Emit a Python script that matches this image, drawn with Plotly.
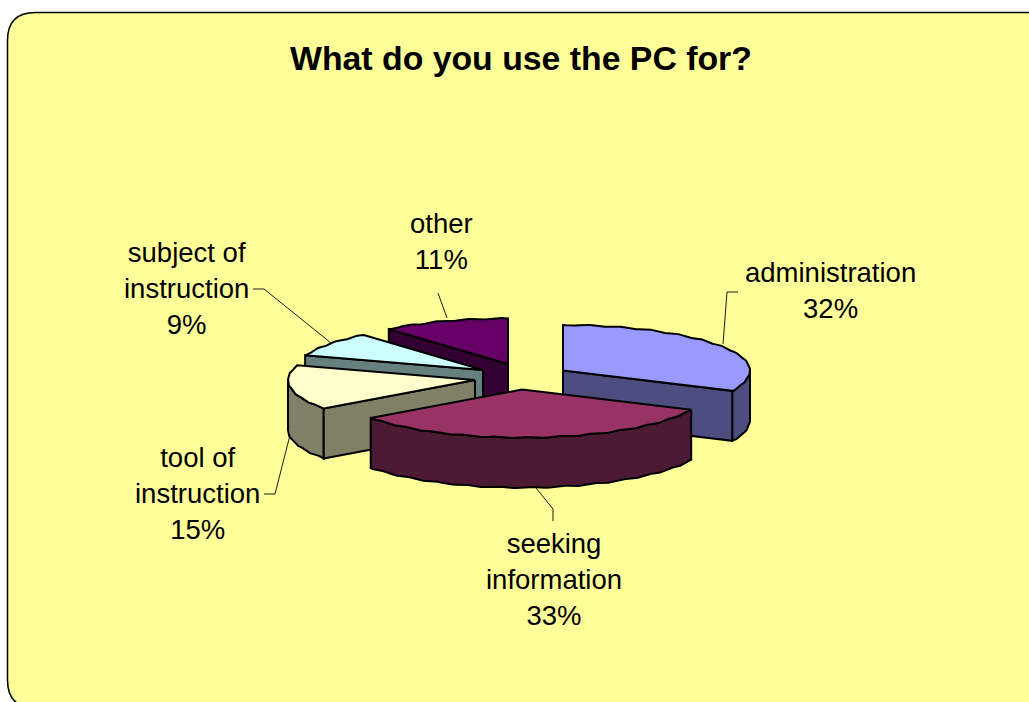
import numpy as np
import plotly.graph_objects as go

# Survey results
categories = ["administration", "seeking<br>information", "tool of<br>instruction",
              "subject of<br>instruction", "other"]
shares = [32, 33, 15, 9, 11]
chart_title = "What do you use the PC for?"

# Styling of each slice, in the same order as the categories
top_colors = ["#9999FF", "#993366", "#FFFFCC", "#CCFFFF", "#660066"]
wall_colors = ["#4D4D80", "#4D1A33", "#808066", "#668080", "#330033"]

# Tilted-disc projection, in page pixels; the far half is slightly flatter
RX, RY_FAR, RY_NEAR, DEPTH = 187.0, 45.5, 48.0, 50.0
RIPPLE = 0.6
slice_apex = [(563, 370.5), (522, 389.5), (475, 380), (483, 370), (508, 364)]

# Label anchors and leader lines
label_pos = [(830, 290), (554, 579), (197, 493), (186, 288), (441, 241)]
leaders = [
    ([723, 727, 738], [344, 292, 292]),
    ([536, 553, 553], [488, 509, 521]),
    ([264, 275, 290], [494, 494, 435]),
    ([253, 264, 331], [289, 289, 343]),
    ([438, 447], [293, 318]),
]

FONT = "Liberation Sans, Arial, sans-serif"


def rim(apex, a0, a1, step=1.0):
    """Outer edge of a slice between two clockwise-from-top angles in degrees."""
    n = max(2, int(abs(a1 - a0) / step) + 1)
    a = np.radians(np.linspace(a0, a1, n))
    ry = np.where(np.cos(a) > 0, RY_FAR, RY_NEAR)
    x = apex[0] + RX * np.sin(a)
    y = apex[1] - ry * np.cos(a) + RIPPLE * np.sin(36 * a)
    return x, y


def polygon(fig, x, y, color, name):
    fig.add_trace(go.Scatter(
        x=list(x) + [x[0]], y=list(y) + [y[0]], mode="lines", fill="toself",
        fillcolor=color, line=dict(color="black", width=2), name=name,
        hoverinfo="skip", showlegend=False,
    ))


def outer_wall(fig, apex, a0, a1, color, name):
    x, y = rim(apex, a0, a1)
    polygon(fig, np.r_[x, x[::-1]], np.r_[y, y[::-1] + DEPTH], color, name)


def cut_wall(fig, apex, angle, color, name):
    x, y = rim(apex, angle, angle)
    ex, ey = x[0], y[0]
    polygon(fig, [apex[0], ex, ex, apex[0]],
            [apex[1], ey, ey + DEPTH, apex[1] + DEPTH], color, name)


fig = go.Figure()

# Slice boundaries follow from the shares
edges = np.r_[0, np.cumsum(shares)] * 360.0 / sum(shares)
spans = {i: (edges[i], edges[i + 1]) for i in range(len(shares))}

# Painted back to front so nearer slices overlap the others
for i in [4, 3, 2, 0, 1]:
    a0, a1 = spans[i]
    apex = slice_apex[i]
    name = categories[i].replace("<br>", " ")
    wall = wall_colors[i]
    if i in (3, 4):
        cut_wall(fig, apex, a0, wall, name)
    elif i == 2:
        outer_wall(fig, apex, a0, 270, wall, name)
        cut_wall(fig, apex, a0, wall, name)
    elif i == 0:
        outer_wall(fig, apex, 90, a1, wall, name)
        cut_wall(fig, apex, a1, wall, name)
    else:
        outer_wall(fig, apex, a0, a1, wall, name)
    x, y = rim(apex, a0, a1)
    polygon(fig, np.r_[apex[0], x], np.r_[apex[1], y], top_colors[i], name)

# Leader lines from the slices to their labels
for lx, ly in leaders:
    fig.add_trace(go.Scatter(x=lx, y=ly, mode="lines",
                             line=dict(color="#1a1a1a", width=1),
                             hoverinfo="skip", showlegend=False))

annotations = [
    dict(x=px, y=py, xref="x", yref="y", showarrow=False, align="center",
         text=f"{cat}<br>{val}%", font=dict(family=FONT, size=27.5, color="black"))
    for cat, val, (px, py) in zip(categories, shares, label_pos)
]
annotations.append(dict(
    x=521, y=58, xref="x", yref="y", showarrow=False,
    text=f"<b>{chart_title}</b>", font=dict(family=FONT, size=33.8, color="black"),
))

# Rounded chart panel; its right and bottom edges run off the page
L, T, R, B, C = 7.5, 12.5, 1060, 708, 28
panel = (f"M {L + C} {T} L {R - C} {T} Q {R} {T} {R} {T + C} L {R} {B - C} "
         f"Q {R} {B} {R - C} {B} L {L + C} {B} Q {L} {B} {L} {B - C} "
         f"L {L} {T + C} Q {L} {T} {L + C} {T} Z")

fig.update_layout(
    width=1029, height=702, autosize=False,
    margin=dict(l=0, r=0, t=0, b=0),
    paper_bgcolor="white", plot_bgcolor="white",
    xaxis=dict(range=[0, 1029], visible=False, fixedrange=True),
    yaxis=dict(range=[702, 0], visible=False, fixedrange=True),
    annotations=annotations,
    shapes=[dict(type="path", path=panel, xref="x", yref="y", layer="below",
                 fillcolor="#FFFF99", line=dict(color="black", width=1.5))],
)

fig.write_html("out.html", config={"displayModeBar": False})
